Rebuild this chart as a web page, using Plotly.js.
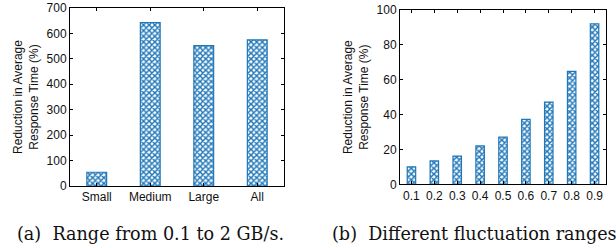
<!DOCTYPE html>
<html>
<head>
<meta charset="utf-8">
<script src="https://cdn.plot.ly/plotly-3.0.1.min.js"></script>
<style>html,body{margin:0;padding:0;background:#fff;}#chart{width:616px;height:248px;}</style>
</head>
<body>
<div id="chart"></div>
<script>
const catsA = ['Small', 'Medium', 'Large', 'All'];
const valsA = [54, 643, 552, 575];
const catsB = ['0.1', '0.2', '0.3', '0.4', '0.5', '0.6', '0.7', '0.8', '0.9'];
const valsB = [10, 13.4, 16.2, 22, 27.1, 37.3, 47.2, 64.8, 92];
const yTitle = 'Reduction in Average<br>Response Time (%)';
const captionA = '(a)  Range from 0.1 to 2 GB/s.';
const captionB = '(b)  Different fluctuation ranges';

const blue = '#1f77b8';
const barStyle = {
  color: 'white',
  line: {color: blue, width: 1.2},
  pattern: {shape: 'x', fgcolor: blue, bgcolor: 'white', size: 4, solidity: 0.6}
};

const traces = [
  {type: 'bar', x: catsA, y: valsA, xaxis: 'x', yaxis: 'y', width: 0.37, marker: barStyle, hoverinfo: 'none'},
  {type: 'bar', x: catsB, y: valsB, xaxis: 'x2', yaxis: 'y2', width: 0.37, marker: barStyle, hoverinfo: 'none'}
];

const sans = 'Liberation Sans, Arial, sans-serif';
const font = {family: sans, size: 12, color: '#111'};
const axCommon = {
  showline: true, linecolor: '#000', linewidth: 1, mirror: 'ticks',
  ticks: 'inside', ticklen: 3, tickcolor: '#000', showgrid: false, zeroline: false,
  automargin: false, tickfont: font, fixedrange: true
};
const titleFont = {family: sans, size: 12, color: '#111'};
const serifFont = {family: 'DejaVu Serif, serif', size: 17.6, color: '#111'};

const layout = {
  width: 616, height: 248,
  margin: {l: 0, r: 0, t: 0, b: 0},
  paper_bgcolor: 'white', plot_bgcolor: 'white',
  showlegend: false,
  font: font,
  xaxis: Object.assign({}, axCommon, {domain: [70/616, 284/616], anchor: 'y', range: [-0.5, 3.5], type: 'category'}),
  yaxis: Object.assign({}, axCommon, {domain: [62/248, 240/248], anchor: 'x', range: [0, 700], dtick: 100,
    title: {text: yTitle, font: titleFont, standoff: 5}}),
  xaxis2: Object.assign({}, axCommon, {domain: [400/616, 606/616], anchor: 'y2', range: [-0.5, 8.5], type: 'category'}),
  yaxis2: Object.assign({}, axCommon, {domain: [63.7/248, 238/248], anchor: 'x2', range: [0, 100], dtick: 20,
    title: {text: yTitle, font: titleFont, standoff: 5}}),
  annotations: [
    {text: captionA, xref: 'paper', yref: 'paper', x: 15/616, y: 14/248, xanchor: 'left', yanchor: 'middle', showarrow: false, font: serifFont},
    {text: captionB, xref: 'paper', yref: 'paper', x: 330/616, y: 14/248, xanchor: 'left', yanchor: 'middle', showarrow: false, font: serifFont}
  ]
};

Plotly.newPlot('chart', traces, layout, {staticPlot: true, displayModeBar: false});
</script>
</body>
</html>
